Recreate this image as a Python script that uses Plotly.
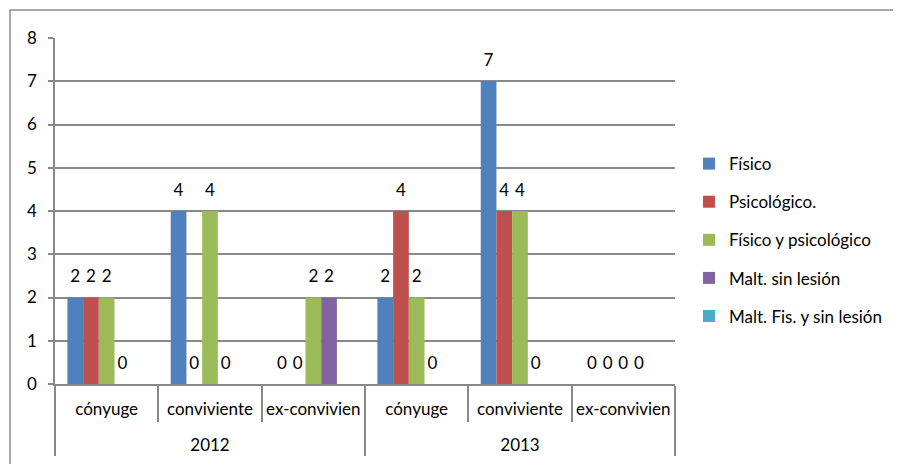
import plotly.graph_objects as go

years = ["2012", "2012", "2012", "2013", "2013", "2013"]
relations = ["cónyuge", "conviviente", "ex-convivien", "cónyuge", "conviviente", "ex-convivien"]

series_names = ["Físico", "Psicológico.", "Físico y psicológico", "Malt. sin lesión", "Malt. Fis. y sin lesión"]
fisico = [2, 4, 0, 2, 7, 0]
psicologico = [2, 0, 0, 4, 4, 0]
fisico_psico = [2, 4, 2, 2, 4, 0]
malt_sin_lesion = [0, 0, 2, 0, 0, 0]
malt_fis_sin_lesion = [None, None, None, None, None, None]

colors = ["#4F81BD", "#C0504D", "#9BBB59", "#8064A2", "#4BACC6"]
values = [fisico, psicologico, fisico_psico, malt_sin_lesion, malt_fis_sin_lesion]

FONT = "Lato"
FS = 17
GRID = "#898989"

inner_labels = [r + "<br> " for r in relations]

fig = go.Figure()
for i, (name, vals, col) in enumerate(zip(series_names, values, colors)):
    fig.add_trace(go.Bar(
        x=[years, inner_labels], y=vals, name=name,
        marker=dict(color=col, line=dict(width=0)),
        texttemplate="<span style='font-size:%dpx'>%%{y}</span><br>\u00a0" % FS,
        textposition="outside", constraintext="none",
        textfont=dict(family=FONT, size=8, color="#000000"),
        cliponaxis=False, legendgroup=name,
    ))

fig.update_layout(
    width=901, height=464,
    margin=dict(l=47, r=234, t=30, b=88),
    paper_bgcolor="white", plot_bgcolor="white",
    barmode="group", bargap=0.24, bargroupgap=0,
    font=dict(family=FONT, size=FS, color="#000000"),
    showlegend=True,
    legend=dict(x=1.0226, y=0.416, xanchor="left", yanchor="middle",
                font=dict(family=FONT, size=FS, color="#000000"),
                tracegroupgap=13, itemwidth=30, bgcolor="rgba(0,0,0,0)"),
    shapes=[dict(type="rect", xref="paper", yref="paper",
                 x0=-0.0726, x1=1.6, y0=-0.4, y1=1.081,
                 line=dict(color="#8c8c8c", width=1.5), layer="below")],
)
fig.update_yaxes(range=[0, 8], dtick=1, showgrid=True, gridcolor=GRID, gridwidth=1.5,
                 showline=True, linecolor=GRID, linewidth=1.5,
                 ticks="outside", ticklen=5, tickcolor=GRID, tickwidth=1.5,
                 ticklabelstandoff=8,
                 tickfont=dict(family=FONT, size=FS, color="#000000"),
                 zeroline=False, fixedrange=True)
fig.update_xaxes(type="multicategory", showline=True, linecolor=GRID, linewidth=1.5,
                 ticks="outside", ticklen=36, tickcolor=GRID, tickwidth=1.5,
                 showdividers=True, dividercolor=GRID, dividerwidth=1.5,
                 tickangle=0, ticklabelstandoff=9,
                 tickfont=dict(family=FONT, size=FS, color="#000000"),
                 showgrid=False, fixedrange=True)

fig.write_html("out.html")
